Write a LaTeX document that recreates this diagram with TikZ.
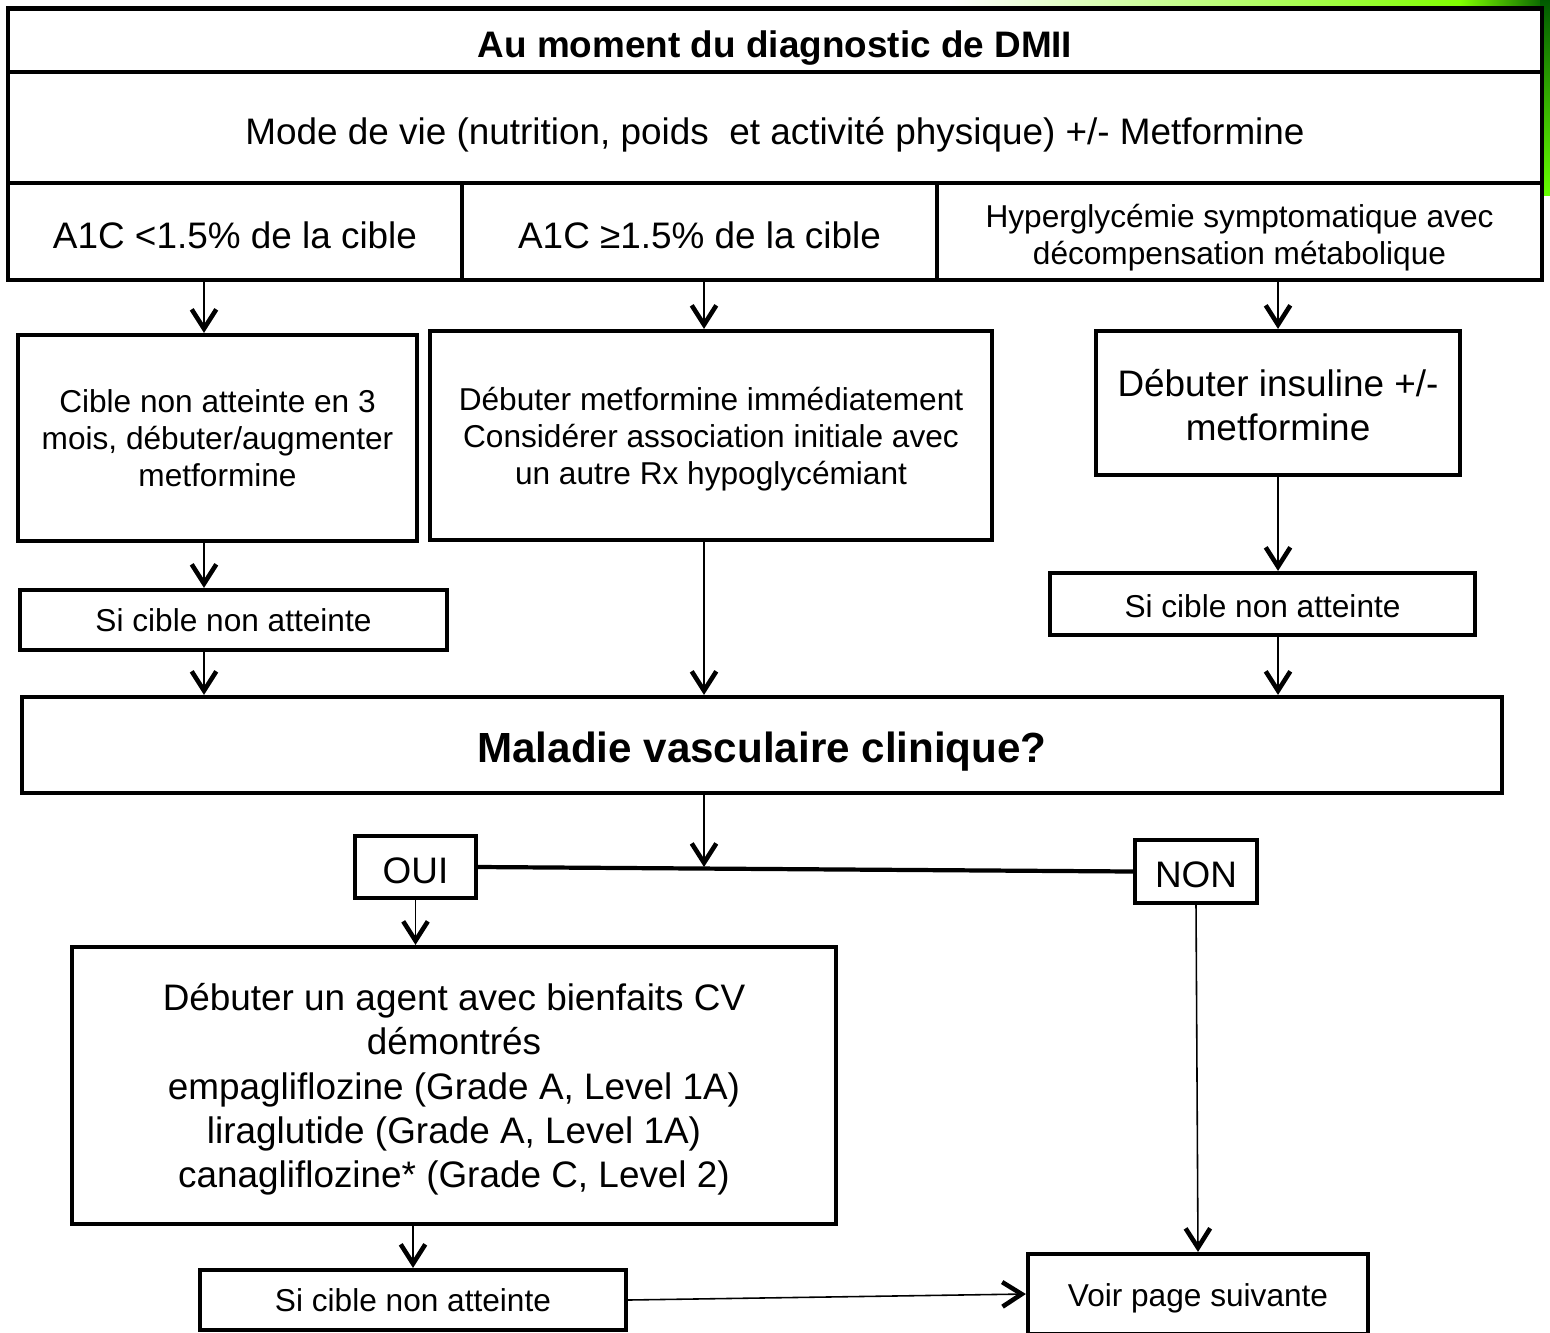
\documentclass[tikz,border=0pt]{standalone}
\usepackage{fontspec}
\setmainfont{Liberation Sans}
\usetikzlibrary{arrows.meta}

\begin{document}
\begin{tikzpicture} [x=0.02cm, y=-0.02cm,
  box/.style={draw, line width=2.4pt, fill=white, align=center, inner sep=0pt},
  big/.style={font=\fontsize{21}{25}\selectfont},
  small/.style={font=\fontsize{18}{21}\selectfont},
  base/.style={text height=#1, text depth=0pt},
  arr/.style={line width=0.9pt, -{Straight Barb[length=11pt, width=14pt, line width=2.6pt]}}]

\useasboundingbox (0,0) rectangle (1550,1332);

\shade [left color=white, right color=green!50!yellow] (950,0) rectangle (1460,10);
\shade [left color=green!50!yellow, right color=green!35!black] (1460,0) rectangle (1550,10);
\shade [top color=green!35!black, bottom color=green!60!yellow] (1540,0) rectangle (1550,195);

\coordinate (colA) at (204,0);
\coordinate (colB) at (704,0);
\coordinate (split) at (704,867);

\node [box, big, base=20.2pt, minimum width=30.68cm, minimum height=1.27cm] (title) at (775,40.25) {\textbf{Au moment du diagnostic de DMII}};
\node [box, big, base=18.8pt, minimum width=30.68cm, minimum height=2.22cm] (mode) at (775,127.5) {Mode de vie (nutrition, poids~ et activité physique) +/- Metformine};

\node [box, big, base=19.4pt, minimum width=9.08cm, minimum height=1.94cm] (a1cA) at (235,231.5) {A1C <1.5\% de la cible};
\node [box, big, base=19.4pt, minimum width=9.5cm, minimum height=1.94cm] (a1cB) at (699.5,231.5) {A1C ≥1.5\% de la cible};
\node [box, small, minimum width=12.1cm, minimum height=1.94cm] (hyper) at (1239.5,231.5) {\rule{0pt}{19.9pt}Hyperglycémie symptomatique avec\\décompensation métabolique};

\node [box, small, minimum width=7.98cm, minimum height=4.12cm] (cible) at (217.5,438) {Cible non atteinte en 3\\mois, débuter/augmenter\\metformine};
\node [box, small, minimum width=11.24cm, minimum height=4.18cm] (metf) at (711,435.5) {\rule{0pt}{17.6pt}Débuter metformine immédiatement\\Considérer association initiale avec\\un autre Rx hypoglycémiant};
\node [box, big, minimum width=7.28cm, minimum height=2.88cm] (insul) at (1278,403) {\rule{0pt}{17.6pt}Débuter insuline +/-\\metformine};

\node [box, small, base=13pt, minimum width=8.54cm, minimum height=1.2cm] (sicA) at (233.5,620) {Si cible non atteinte};
\node [box, small, base=15.3pt, minimum width=8.5cm, minimum height=1.24cm] (sicC) at (1262.5,604) {Si cible non atteinte};

\node [box, font=\fontsize{24}{28}\selectfont\bfseries, base=20.4pt, minimum width=29.6cm, minimum height=1.92cm] (maladie) at (762,745) {Maladie vasculaire clinique?};

\node [box, big, base=18.4pt, minimum width=2.42cm, minimum height=1.24cm] (oui) at (415.5,867) {OUI};
\node [box, big, base=18.4pt, minimum width=2.44cm, minimum height=1.26cm] (non) at (1196,871.5) {NON};

\node [box, font=\fontsize{21}{25.3}\selectfont, minimum width=15.28cm, minimum height=5.54cm] (agent) at (454,1085.5) {\rule{0pt}{19.8pt}Débuter un agent avec bienfaits CV\\démontrés\\empagliflozine (Grade A, Level 1A)\\liraglutide (Grade A, Level 1A)\\canagliflozine* (Grade C, Level 2)};

\node [box, small, base=13pt, minimum width=8.52cm, minimum height=1.2cm] (sicB) at (413,1300) {Si cible non atteinte};
\node [box, small, base=13.8pt, minimum width=6.8cm, minimum height=1.6cm] (voir) at (1198,1294) {Voir page suivante};

\draw [arr] (a1cA.south -| colA) -- (cible.north -| colA);
\draw [arr] (a1cB.south -| colB) -- (metf.north -| colB);
\draw [arr] (hyper.south -| insul.north) -- (insul.north);
\draw [arr] (cible.south -| colA) -- (sicA.north -| colA);
\draw [arr] (insul.south) -- (sicC.north -| insul.south);
\draw [arr] (sicA.south -| colA) -- (maladie.north -| colA);
\draw [arr] (metf.south -| colB) -- (maladie.north -| colB);
\draw [arr] (sicC.south -| insul.south) -- (maladie.north -| insul.south);
\draw [line width=2.4pt] (oui.east) -- (non.west);
\draw [arr] (maladie.south -| split) -- (split);
\draw [arr] (oui.south) -- (agent.north -| oui.south);
\draw [arr] (non.south) -- (voir.north);
\draw [arr] (agent.south -| sicB.north) -- (sicB.north);
\draw [arr] (sicB.east) -- (voir.west);
\end{tikzpicture}
\end{document}
